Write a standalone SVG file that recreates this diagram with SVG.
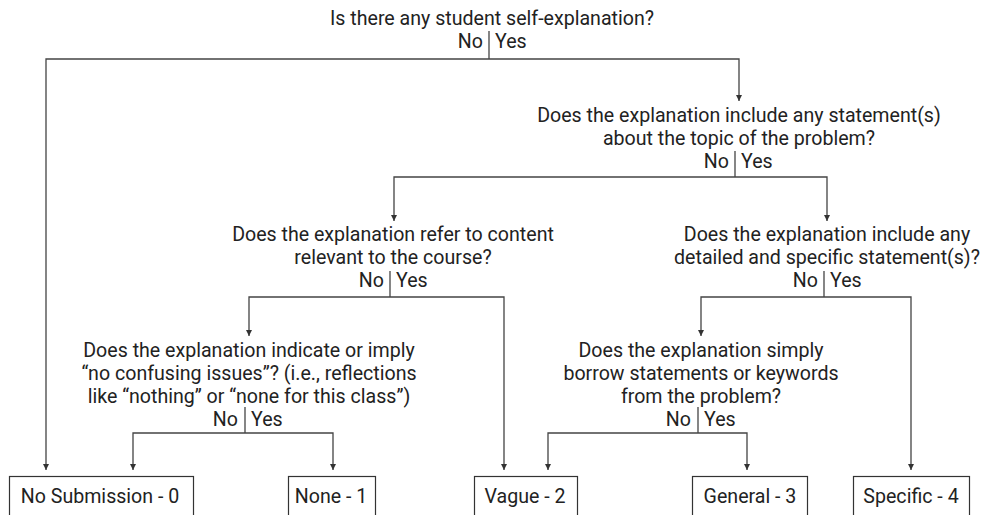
<svg xmlns="http://www.w3.org/2000/svg" width="984" height="515" viewBox="0 0 984 515">
<defs>
<style>
text{font-family:Roboto,"Liberation Sans",sans-serif;font-size:19.6px;fill:#222;}
.c{text-anchor:middle;}
.e{text-anchor:end;}
.ln{stroke:#444;stroke-width:1.3;fill:none;}
.ar{stroke:#444;stroke-width:1.3;fill:none;marker-end:url(#ah);}
.box{fill:#fff;stroke:#333;stroke-width:1.2;}
</style>
<marker id="ah" markerUnits="userSpaceOnUse" markerWidth="8" markerHeight="8" refX="6" refY="3" orient="auto">
<path d="M0,0 L6,3 L0,6 z" fill="#333"/>
</marker>
</defs>
<rect width="984" height="515" fill="#fff"/>
<g id="connectors">
<path class="ln" d="M489,31 V59"/>
<path class="ar" d="M489,59 H46 V470"/>
<path class="ar" d="M489,59 H739 V101"/>
<path class="ln" d="M735,151 V177"/>
<path class="ar" d="M735,177 H394 V221"/>
<path class="ar" d="M735,177 H827 V221"/>
<path class="ln" d="M390,271 V297"/>
<path class="ar" d="M390,297 H249 V336"/>
<path class="ar" d="M390,297 H504 V470"/>
<path class="ln" d="M824,271 V297"/>
<path class="ar" d="M824,297 H701 V336"/>
<path class="ar" d="M824,297 H911 V470"/>
<path class="ln" d="M245,407 V433"/>
<path class="ar" d="M245,433 H133 V470"/>
<path class="ar" d="M245,433 H333 V470"/>
<path class="ln" d="M698,407 V433"/>
<path class="ar" d="M698,433 H548 V470"/>
<path class="ar" d="M698,433 H747 V470"/>
</g>
<g id="q1">
<text class="c" x="492" y="25">Is there any student self-explanation?</text>
<text class="e" x="483" y="48">No</text>
<text x="495" y="48">Yes</text>
</g>
<g id="q2">
<text class="c" x="739" y="122">Does the explanation include any statement(s)</text>
<text class="c" x="739" y="145">about the topic of the problem?</text>
<text class="e" x="729" y="168">No</text>
<text x="741" y="168">Yes</text>
</g>
<g id="q3a">
<text class="c" x="393" y="241">Does the explanation refer to content</text>
<text class="c" x="393" y="264">relevant to the course?</text>
<text class="e" x="384" y="287">No</text>
<text x="396" y="287">Yes</text>
</g>
<g id="q3b">
<text class="c" x="827" y="241">Does the explanation include any</text>
<text class="c" x="827" y="264">detailed and specific statement(s)?</text>
<text class="e" x="818" y="287">No</text>
<text x="830" y="287">Yes</text>
</g>
<g id="q4a">
<text class="c" x="249" y="357">Does the explanation indicate or imply</text>
<text class="c" x="249" y="380">“no confusing issues”? (i.e., reflections</text>
<text class="c" x="249" y="403">like “nothing” or “none for this class”)</text>
<text class="e" x="238" y="426">No</text>
<text x="251" y="426">Yes</text>
</g>
<g id="q4b">
<text class="c" x="701" y="357">Does the explanation simply</text>
<text class="c" x="701" y="380">borrow statements or keywords</text>
<text class="c" x="701" y="403">from the problem?</text>
<text class="e" x="691" y="426">No</text>
<text x="704" y="426">Yes</text>
</g>
<g id="leaf0">
<rect class="box" x="9.5" y="476.5" width="184" height="50"/>
<text class="c" x="100" y="503">No Submission - 0</text>
</g>
<g id="leaf1">
<rect class="box" x="288.5" y="476.5" width="87" height="50"/>
<text class="c" x="331" y="503">None - 1</text>
</g>
<g id="leaf2">
<rect class="box" x="474.5" y="476.5" width="103" height="50"/>
<text class="c" x="525" y="503">Vague - 2</text>
</g>
<g id="leaf3">
<rect class="box" x="692.5" y="476.5" width="115" height="50"/>
<text class="c" x="750" y="503">General - 3</text>
</g>
<g id="leaf4">
<rect class="box" x="853.5" y="476.5" width="116" height="50"/>
<text class="c" x="911" y="503">Specific - 4</text>
</g>
</svg>
